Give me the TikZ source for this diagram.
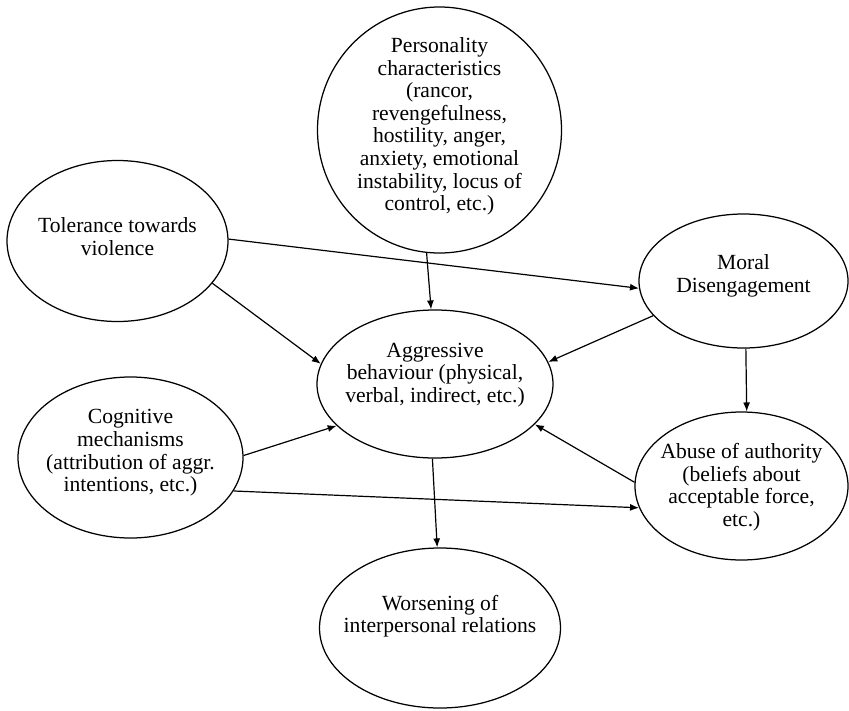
\documentclass[tikz,border=0pt]{standalone}
\usepackage{fontspec}
\setmainfont{Liberation Serif}
\usetikzlibrary{shapes.geometric,arrows.meta}
\begin{document}
\begin{tikzpicture}[x=1pt,y=-1pt,
  oval/.style={ellipse, draw, line width=1.25pt, inner sep=0pt},
  lbl/.style={align=center, inner sep=0pt, font=\fontsize{21.6}{22.6}\selectfont},
  conn/.style={line width=1.2pt, -{Latex[length=9pt,width=7pt]}}]
\useasboundingbox (0,0) rectangle (849,710);

% factors (ellipses) and their captions
\node[oval, minimum width=244pt, minimum height=246pt] (pers) at (439.5,130) {};
\node[lbl] (perstext) at (439.5,126.5)
  {Personality\\characteristics\\(rancor,\\revengefulness,\\hostility, anger,\\anxiety, emotional\\instability, locus of\\control, etc.)};

\node[oval, minimum width=221pt, minimum height=161pt] (tol) at (117.5,241) {};
\node[lbl] (toltext) at (117.5,236.5) {Tolerance towards\\violence};

\node[oval, minimum width=209pt, minimum height=134pt] (moral) at (743.5,281) {};
\node[lbl] (moraltext) at (743.5,276) {Moral\\Disengagement};

\node[oval, minimum width=236pt, minimum height=148pt] (aggr) at (435,384) {};
\node[lbl] (aggrtext) at (435,375) {Aggressive\\behaviour (physical,\\verbal, indirect, etc.)};

\node[oval, minimum width=225pt, minimum height=161pt] (cog) at (130.5,457.5) {};
\node[lbl] (cogtext) at (130.5,453) {Cognitive\\mechanisms\\(attribution of aggr.\\intentions, etc.)};

\node[oval, minimum width=213pt, minimum height=148pt] (abuse) at (741.5,486) {};
\node[lbl] (abusetext) at (741.5,487) {Abuse of authority\\(beliefs about\\acceptable force,\\etc.)};

\node[oval, minimum width=241pt, minimum height=160pt] (wors) at (440,628) {};
\node[lbl] (worstext) at (440,616) {Worsening of\\interpersonal relations};

% influences
\draw[conn] (tol.1) -- (moral.184);
\draw[conn] (tol.336) -- (aggr.170);
\draw[conn] (pers.264) -- (aggr.93);
\draw[conn] (moral.201) -- (aggr.11);
\draw[conn] (moral.272) -- (abuse.86);
\draw[conn] (abuse.178) -- (aggr.338);
\draw[conn] (cog.1) -- (aggr.203);
\draw[conn] (cog.342) -- (abuse.192);
\draw[conn] (aggr.268) -- (wors.92);
\end{tikzpicture}
\end{document}
